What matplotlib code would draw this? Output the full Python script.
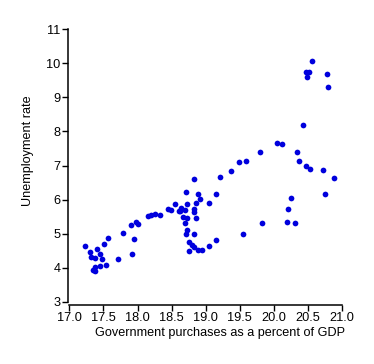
import matplotlib
matplotlib.use("Agg")
import matplotlib.pyplot as plt

plt.rcParams['font.family'] = ['Liberation Sans', 'DejaVu Sans']

# Government purchases (% of GDP) and unemployment rate
gov_purchases = [
    17.23, 17.31, 17.32, 17.38, 17.41, 17.45, 17.48, 17.51, 17.57, 17.37,
    17.35, 17.38, 17.45, 17.54, 17.72, 17.78, 17.92, 17.95, 17.91, 17.98,
    18.01, 18.16, 18.19, 18.25, 18.33, 18.44, 18.49, 18.55, 18.60, 18.64,
    18.70, 18.83, 18.83, 18.67, 18.73, 18.86, 18.70, 18.73, 18.71, 18.83,
    18.76, 18.80, 18.82, 18.76, 18.88, 18.95, 19.05, 19.15, 18.83, 18.71,
    18.89, 19.15, 18.92, 18.86, 19.04, 18.73, 19.21, 19.37, 19.48, 19.59,
    19.80, 19.55, 19.83, 20.05, 20.12, 20.33, 20.36, 20.47, 20.53, 20.72,
    20.88, 20.75, 20.25, 20.21, 20.19, 20.30, 20.43, 20.47, 20.51, 20.49,
    20.55, 20.78, 20.79, 18.62,
]
unemployment = [
    4.63, 4.46, 4.31, 4.28, 4.55, 4.40, 4.25, 4.69, 4.87, 4.02,
    3.93, 3.90, 4.05, 4.08, 4.25, 5.01, 4.40, 4.84, 5.25, 5.34,
    5.28, 5.51, 5.54, 5.57, 5.54, 5.72, 5.69, 5.87, 5.66, 5.75,
    5.69, 5.72, 5.63, 5.48, 5.45, 5.45, 5.31, 5.10, 4.99, 4.99,
    4.77, 4.66, 4.60, 4.49, 4.52, 4.52, 4.63, 4.81, 6.60, 6.22,
    6.16, 6.16, 6.01, 5.89, 5.89, 5.87, 6.66, 6.83, 7.10, 7.14,
    7.39, 4.99, 5.31, 7.65, 7.62, 7.39, 7.13, 6.99, 6.89, 6.86,
    6.63, 6.17, 6.04, 5.72, 5.35, 5.31, 8.18, 9.74, 9.74, 9.59,
    10.06, 9.69, 9.30, 5.66,
]

fig = plt.figure(figsize=(3.74, 3.64), dpi=100)
ax = fig.add_axes([69.3 / 374, 1 - 302 / 364, 273 / 374, 273 / 364])

ax.scatter(gov_purchases, unemployment, s=17, color='#0000dd', linewidths=0, zorder=3)

ax.set_xlim(17, 21)
ax.set_ylim(3, 11)
ax.set_xticks([17.0, 17.5, 18.0, 18.5, 19.0, 19.5, 20.0, 20.5, 21.0])
ax.set_xticklabels(['17.0', '17.5', '18.0', '18.5', '19.0', '19.5', '20.0', '20.5', '21.0'])
ax.set_yticks(range(3, 12))

for side in ['top', 'right']:
    ax.spines[side].set_visible(False)
for side in ['left', 'bottom']:
    ax.spines[side].set_linewidth(1.1)
ax.spines['bottom'].set_position(('outward', 2))
ax.spines['left'].set_position(('outward', 1))
ax.tick_params(length=4, width=1, labelsize=9.2, pad=1.5, colors='black')

ax.set_xlabel("Government purchases as a percent of GDP", fontsize=9.1)
ax.xaxis.set_label_coords(0.552, -0.092)
ax.xaxis.label.set_va('top')
ax.set_ylabel("Unemployment rate", fontsize=9.1)
ax.yaxis.set_label_coords(-0.153, 0.554)
ax.yaxis.label.set_va('center')

fig.savefig("out.png", dpi=100)
